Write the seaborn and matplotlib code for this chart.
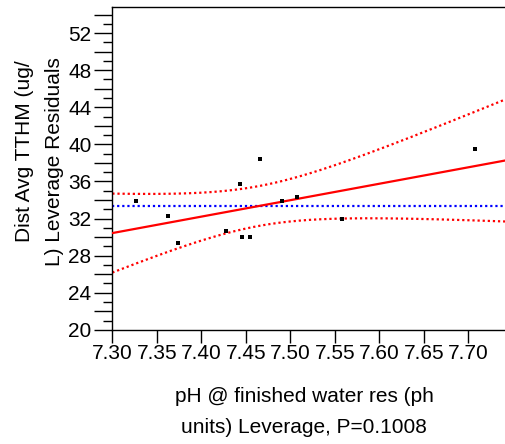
import numpy as np
import pandas as pd
import matplotlib
matplotlib.use("Agg")
import matplotlib.pyplot as plt
import seaborn as sns
from matplotlib.ticker import MultipleLocator, FuncFormatter

# Leverage-plot points: pH leverage (x) vs TTHM leverage residuals (y)
ph_leverage = [7.327, 7.363, 7.374, 7.428, 7.444, 7.446, 7.455, 7.466,
               7.491, 7.508, 7.558, 7.708]
tthm_residual = [33.9, 32.3, 29.4, 30.7, 35.7, 30.05, 30.05, 38.4,
                 33.9, 34.3, 31.9, 39.5]

x_ticks = [7.30, 7.35, 7.40, 7.45, 7.50, 7.55, 7.60, 7.65, 7.70]
x_tick_labels = ["7.30", "7.35", "7.40", "7.45", "7.50", "7.55", "7.60", "7.65", "7.70"]
y_label_step = 4

x_label = "pH @ finished water res (ph\nunits) Leverage, P=0.1008"
y_label_lines = ["Dist Avg TTHM (ug/", "L) Leverage Residuals"]

# model terms (intercept + 3 effects) -> error degrees of freedom n - 4
n_params = 4
t_crit = 2.306  # two-sided 95% t quantile, 8 df

sns.set_theme(style="ticks")
plt.rcParams["font.family"] = ["Liberation Sans", "DejaVu Sans"]
plt.rcParams.update({"text.color": "black", "axes.labelcolor": "black",
                     "xtick.color": "black", "ytick.color": "black",
                     "axes.edgecolor": "black"})
FS = 15

df = pd.DataFrame({"ph": ph_leverage, "tthm": tthm_residual})

fig = plt.figure(figsize=(5.05, 4.44), dpi=100)
ax = fig.add_axes([0.2224, 0.2572, 0.7776, 0.7277])
xlim = (7.30, 7.7412)
ylim = (20, 54.85)
ax.set_xlim(*xlim)
ax.set_ylim(*ylim)

# confidence curves for the fitted line
x = df["ph"].to_numpy()
y = df["tthm"].to_numpy()
n = len(x)
slope, intercept = np.polyfit(x, y, 1)
resid = y - (intercept + slope * x)
s = np.sqrt(np.sum(resid ** 2) / (n - n_params))
sxx = np.sum((x - x.mean()) ** 2)
xg = np.linspace(xlim[0], xlim[1], 300)
fit = intercept + slope * xg
half = t_crit * s * np.sqrt(1.0 / n + (xg - x.mean()) ** 2 / sxx)

dot = (0, (1.0, 1.3))
ax.axhline(y.mean(), color="#0000ff", lw=1.6, ls=dot, zorder=2)
ax.plot(xg, fit + half, color="#ff0000", lw=1.6, ls=dot, zorder=2)
ax.plot(xg, fit - half, color="#ff0000", lw=1.6, ls=dot, zorder=2)
sns.regplot(data=df, x="ph", y="tthm", scatter=False, ci=None, truncate=False,
            line_kws=dict(color="#ff0000", lw=1.6, zorder=3), ax=ax)
sns.scatterplot(data=df, x="ph", y="tthm", color="black", marker="s", s=11,
                linewidth=0, zorder=5, ax=ax)

ax.set_xlim(*xlim)
ax.set_ylim(*ylim)

ax.set_xticks(x_ticks)
ax.set_xticklabels(x_tick_labels)
ax.yaxis.set_major_locator(MultipleLocator(2))
ax.yaxis.set_minor_locator(MultipleLocator(1))
ax.yaxis.set_major_formatter(FuncFormatter(
    lambda v, p: f"{v:.0f}" if round(v) % y_label_step == 0 else ""))

ax.tick_params(axis="x", which="major", length=9.5, width=1.0, pad=1,
               labelsize=FS, direction="out")
ax.tick_params(axis="y", which="major", length=13, width=1.0, pad=2,
               labelsize=FS, direction="out")
ax.tick_params(axis="y", which="minor", length=6.5, width=1.0, direction="out")

for side in ["left", "bottom", "top"]:
    ax.spines[side].set_linewidth(1.0)
ax.spines["right"].set_visible(False)

ax.set_xlabel(x_label, fontsize=FS, linespacing=1.8)
ax.xaxis.set_label_coords(0.488, -0.176)
ax.set_ylabel("")

# two-line y axis title
fig.text(0.0491, 0.6599, y_label_lines[0], rotation=90, fontsize=FS,
         ha="center", va="center")
fig.text(0.1085, 0.6351, y_label_lines[1], rotation=90, fontsize=FS,
         ha="center", va="center")

fig.savefig("out.png", dpi=100)
